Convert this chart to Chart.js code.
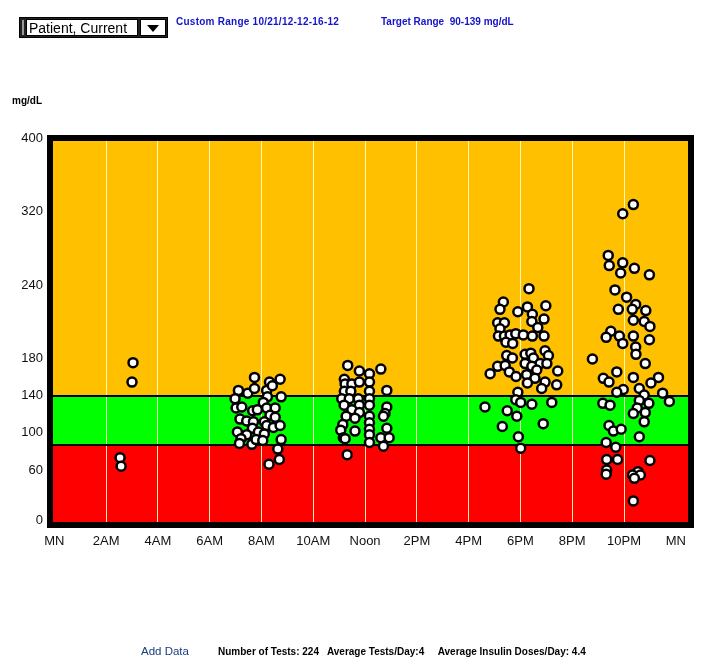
<!DOCTYPE html>
<html>
<head>
<meta charset="utf-8">
<script src="https://cdn.jsdelivr.net/npm/chart.js@4.4.1/dist/chart.umd.min.js"></script>
<style>
  html, body { margin:0; padding:0; background:#fff; }
  body { width:724px; height:672px; position:relative; overflow:hidden; font-family: Arial, "Liberation Sans", sans-serif; }
  #c { position:absolute; left:0; top:0; }
  .t { position:absolute; white-space:pre; }
  .blue { color:#1414c8; font-weight:bold; font-size:10px; }
</style>
</head>
<body>
<canvas id="c" width="724" height="672"></canvas>

<div style="position:absolute;left:19px;top:17px;width:149px;height:21px;background:#222;box-sizing:border-box;border:1px solid #000;">
  <div style="position:absolute;left:2px;top:2px;width:2px;height:15px;background:#999;"></div>
  <div style="position:absolute;left:6px;top:1px;width:112px;height:17px;background:#fff;box-sizing:border-box;border:1px solid #000;font-size:14px;line-height:16px;padding-left:2px;color:#000;">Patient, Current</div>
  <div style="position:absolute;left:120px;top:1px;width:26px;height:17px;background:#fff;box-sizing:border-box;border:1px solid #000;">
    <div style="position:absolute;left:6px;top:5px;width:0;height:0;border-left:6px solid transparent;border-right:6px solid transparent;border-top:7px solid #000;"></div>
  </div>
</div>
<div class="t blue" style="left:176px;top:16px;letter-spacing:0.25px;">Custom Range 10/21/12-12-16-12</div>
<div class="t blue" style="left:381px;top:16px;">Target Range  90-139 mg/dL</div>
<div class="t" style="left:12px;top:95px;font-size:10px;font-weight:bold;color:#000;">mg/dL</div>

<div class="t" style="left:141px;top:645px;font-size:11.5px;color:#1a3c80;">Add Data</div>
<div class="t" style="left:218px;top:646px;font-size:10px;font-weight:bold;color:#000;">Number of Tests: 224   Average Tests/Day:4     Average Insulin Doses/Day: 4.4</div>

<script>
// ---------- data ----------
const xHours = [0, 2, 4, 6, 8, 10, 12, 14, 16, 18, 20, 22, 24];
const xLabels = ['MN', '2AM', '4AM', '6AM', '8AM', '10AM', 'Noon', '2PM', '4PM', '6PM', '8PM', '10PM', 'MN'];
const yTicks = [0, 60, 100, 140, 180, 240, 320, 400];
const bandLimits = [86, 139];   // red / green / orange boundaries as drawn

// readings: [hour of day, mg/dL]
const night = [[3.04,175],[3.0,154],[2.54,73],[2.58,64]];
const morning = [[7.73,159],[8.31,154],[8.72,157],[7.11,145],[7.47,142],[7.73,147],[8.2,145],[8.42,150],[6.98,136],[8.23,138],[8.76,138],[8.07,132],[7.02,126],[7.24,127],[7.66,123],[7.84,124],[8.2,126],[8.53,126],[8.33,118],[7.17,114],[7.43,112],[7.69,111],[8.11,111],[8.53,116],[8.2,107],[8.46,105],[8.72,107],[7.65,104],[7.07,100],[7.43,97],[7.88,100],[8.11,98],[7.21,93],[7.15,88],[7.63,87],[7.79,92],[8.05,91],[8.76,92],[8.63,82],[8.69,71],[8.29,66]];
const midday = [[11.33,172],[11.78,166],[12.17,163],[12.61,168],[11.2,157],[11.23,152],[11.49,152],[11.78,154],[12.17,154],[11.2,144],[11.45,144],[12.17,144],[12.84,145],[11.1,136],[11.39,136],[11.74,136],[12.17,136],[11.19,129],[11.78,129],[12.17,129],[12.84,127],[11.49,124],[11.78,121],[11.27,117],[11.61,115],[12.17,117],[12.77,120],[12.71,117],[12.17,110],[11.14,108],[12.17,103],[12.84,104],[11.06,102],[11.61,101],[11.16,94],[12.17,97],[12.17,89],[12.61,94],[12.93,94],[11.23,93],[12.71,85],[11.31,76]];
const evening = [[18.33,237],[17.34,226],[17.21,220],[17.9,218],[18.27,222],[18.98,223],[18.46,216],[18.91,212],[17.12,209],[17.38,209],[18.44,210],[17.21,204],[18.67,205],[17.15,198],[17.38,198],[17.6,199],[17.82,200],[18.11,199],[18.46,198],[18.91,198],[17.44,193],[17.7,192],[17.47,182],[17.69,180],[18.18,183],[18.4,184],[18.95,186],[19.08,182],[18.5,180],[18.18,174],[18.76,174],[19.02,174],[17.12,171],[17.41,172],[18.44,171],[18.63,167],[16.83,163],[17.57,165],[17.83,160],[18.24,162],[19.44,166],[18.56,158],[18.95,154],[18.27,153],[19.4,151],[18.82,147],[17.9,143],[17.82,135],[18.01,132],[18.44,130],[19.21,132],[16.63,127],[17.49,123],[17.86,117],[18.88,109],[17.3,106],[17.92,95],[18.01,83]];
const late = [[22.36,327],[21.95,317],[21.39,272],[21.43,261],[21.95,264],[21.87,253],[22.4,258],[22.98,251],[21.65,236],[22.1,230],[22.45,224],[21.78,220],[22.32,220],[22.84,219],[22.36,211],[22.78,210],[23.0,206],[21.49,202],[21.31,197],[21.82,198],[22.36,198],[21.95,192],[22.98,195],[22.45,189],[22.46,183],[20.78,179],[22.82,174],[21.72,165],[21.2,158],[21.42,154],[22.36,159],[23.33,159],[23.04,153],[21.97,146],[21.72,143],[22.59,147],[23.49,142],[22.78,140],[23.75,133],[21.18,131],[21.46,129],[22.59,134],[22.96,131],[22.51,126],[22.36,120],[22.82,121],[22.78,111],[21.42,107],[21.59,101],[21.89,103],[22.59,95],[21.31,89],[21.68,84],[21.33,71],[21.75,71],[23.0,70],[21.33,60],[21.31,55],[22.54,58],[22.33,54],[22.63,54],[22.4,50],[22.36,23]];

// ---------- non-uniform y scale (tick spacing as in the original) ----------
const yTickPos = [0.005, 0.1365, 0.2362, 0.3333, 0.4304, 0.622, 0.8163, 1.008];
class PiecewiseScale extends Chart.LinearScale {
  getPixelForValue(value) {
    const v = +value;
    let i = 0;
    while (i < yTicks.length - 2 && v > yTicks[i + 1]) i++;
    const t = (v - yTicks[i]) / (yTicks[i + 1] - yTicks[i]);
    return this.getPixelForDecimal(yTickPos[i] + t * (yTickPos[i + 1] - yTickPos[i]));
  }
  getValueForPixel(pixel) {
    const d = this.getDecimalForPixel(pixel);
    let i = 0;
    while (i < yTickPos.length - 2 && d > yTickPos[i + 1]) i++;
    const t = (d - yTickPos[i]) / (yTickPos[i + 1] - yTickPos[i]);
    return yTicks[i] + t * (yTicks[i + 1] - yTicks[i]);
  }
}
PiecewiseScale.id = 'piecewise';
PiecewiseScale.defaults = Chart.LinearScale.defaults;
Chart.register(PiecewiseScale);

const bandsPlugin = {
  id: 'bands',
  beforeDraw(chart) {
    const { ctx, chartArea: a, scales: { y } } = chart;
    const yLow = y.getPixelForValue(bandLimits[0]);
    const yHigh = y.getPixelForValue(bandLimits[1]);
    ctx.save();
    ctx.fillStyle = '#FFC000';
    ctx.fillRect(a.left, a.top, a.width, yHigh - a.top);
    ctx.fillStyle = '#00FF00';
    ctx.fillRect(a.left, yHigh, a.width, yLow - yHigh);
    ctx.fillStyle = '#FF0000';
    ctx.fillRect(a.left, yLow, a.width, a.bottom - yLow);
    ctx.restore();
  },
  beforeDatasetsDraw(chart) {
    const { ctx, chartArea: a, scales: { y } } = chart;
    ctx.save();
    ctx.strokeStyle = '#000';
    ctx.lineWidth = 2;
    bandLimits.forEach(v => {
      const p = Math.round(y.getPixelForValue(v));
      ctx.beginPath(); ctx.moveTo(a.left, p); ctx.lineTo(a.right, p); ctx.stroke();
    });
    ctx.restore();
  },
  afterDatasetsDraw(chart) {
    const { ctx, chartArea: a } = chart;
    ctx.save();
    ctx.strokeStyle = '#000';
    ctx.lineWidth = 6;
    ctx.strokeRect(a.left - 3, a.top - 3, a.width + 6, a.height + 6);
    ctx.restore();
  }
};

const allReadings = [].concat(night, morning, midday, evening, late);
const tickFont = { family: 'Arial, "Liberation Sans", sans-serif', size: 13 };

new Chart(document.getElementById('c'), {
  type: 'scatter',
  data: {
    datasets: [{
      data: allReadings.map(([h, v]) => ({ x: h, y: v })),
      backgroundColor: '#ffffff',
      borderColor: '#000000',
      borderWidth: 2.5,
      pointRadius: 4.5,
      pointHoverRadius: 4.5
    }]
  },
  options: {
    responsive: false,
    animation: false,
    layout: { padding: { top: 141, right: 36, bottom: 120, left: 0 } },
    plugins: { legend: { display: false }, tooltip: { enabled: false } },
    scales: {
      x: {
        type: 'linear',
        min: -0.05,
        max: 24.47,
        afterBuildTicks: s => { s.ticks = xHours.map(v => ({ value: v })); },
        afterFit: s => { s.height = 30; },
        border: { display: false },
        grid: {
          drawTicks: false,
          lineWidth: 1,
          color: c => (c.tick && (c.tick.value === 0 || c.tick.value === 24)) ? 'rgba(0,0,0,0)' : 'rgba(255,255,205,0.9)'
        },
        ticks: {
          font: tickFont, color: '#111', padding: 12, maxRotation: 0, autoSkip: false,
          callback: v => xLabels[xHours.indexOf(v)]
        }
      },
      y: {
        type: 'piecewise',
        min: 0,
        max: 400,
        afterBuildTicks: s => { s.ticks = yTicks.map(v => ({ value: v })); },
        afterFit: s => { s.width = 53; },
        border: { display: false },
        grid: { display: false, drawTicks: false },
        ticks: { font: tickFont, color: '#111', padding: 10, autoSkip: false, callback: v => String(v) }
      }
    }
  },
  plugins: [bandsPlugin]
});
</script>
</body>
</html>
